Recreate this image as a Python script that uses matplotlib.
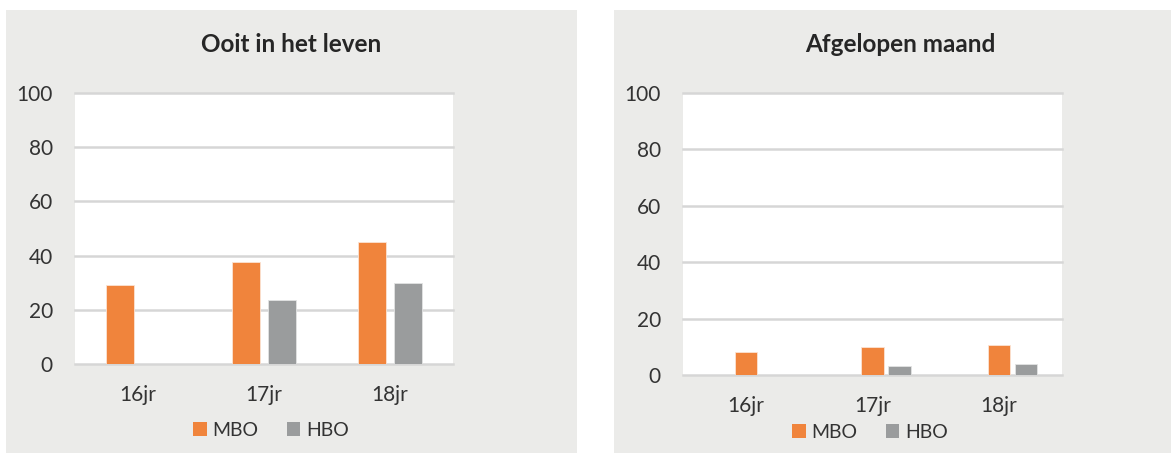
import matplotlib
matplotlib.use("Agg")
import matplotlib.pyplot as plt
from matplotlib.patches import Rectangle, Patch
import numpy as np

categories = ["16jr", "17jr", "18jr"]
series_names = ["MBO", "HBO"]
ooit_mbo = [29, 37.5, 45]
ooit_hbo = [0, 23.7, 30]
maand_mbo = [8, 9.8, 10.5]
maand_hbo = [0, 3.3, 3.9]
yticks = [0, 20, 40, 60, 80, 100]
titles = ["Ooit in het leven", "Afgelopen maand"]

W, H = 1171, 453
plt.rcParams['font.family'] = ['Lato', 'DejaVu Sans']
TXT = '#333333'
ORANGE = '#F0843C'
GREY = '#9A9C9D'
BG = '#EBEBE9'
GRID = '#D6D6D6'

fig = plt.figure(figsize=(W / 100, H / 100), dpi=100)
fig.patch.set_facecolor('white')

def px_rect(x0, y0, x1, y1):
    return [x0 / W, 1 - y1 / H, (x1 - x0) / W, (y1 - y0) / H]

# panel backgrounds
for (x0, y0, x1, y1) in [(6, 10, 577, 453), (614, 10, 1171, 453)]:
    l, b, w, h = px_rect(x0, y0, x1, y1)
    fig.patches.append(Rectangle((l, b), w, h, transform=fig.transFigure,
                                 facecolor=BG, edgecolor='none', zorder=-10))

configs = [
    dict(rect=(75, 93, 453, 364), mbo=ooit_mbo, hbo=ooit_hbo, width=0.22,
         off=(-0.143, 0.143), title=titles[0], tx=291, legx=271, legy=430),
    dict(rect=(683, 93, 1062, 375), mbo=maand_mbo, hbo=maand_hbo, width=0.175,
         off=(0.0, 0.214), title=titles[1], tx=900, legx=870, legy=432),
]

x = np.arange(len(categories))
for c in configs:
    ax = fig.add_axes(px_rect(*c['rect']))
    ax.set_zorder(1)
    ax.set_facecolor('white')
    ax.set_xlim(-0.5, len(categories) - 0.5)
    ax.set_ylim(0, 100)
    for yv in yticks:
        ax.axhline(yv, color=GRID, lw=1.8, zorder=1, clip_on=False)
    ax.bar(x + c['off'][0], c['mbo'], width=c['width'], color=ORANGE,
           edgecolor='#FBE3D3', linewidth=0.6, zorder=3)
    hb = np.array(c['hbo'], dtype=float)
    mask = hb > 0
    ax.bar((x + c['off'][1])[mask], hb[mask], width=c['width'], color=GREY,
           edgecolor='#E2E3E3', linewidth=0.6, zorder=3)
    for s in ax.spines.values():
        s.set_visible(False)
    ax.set_yticks(yticks)
    ax.set_yticklabels([str(v) for v in yticks], fontsize=15, color=TXT)
    ax.set_xticks(x)
    ax.set_xticklabels(categories, fontsize=15, color=TXT)
    ax.tick_params(axis='y', length=0, pad=16)
    ax.tick_params(axis='x', length=0, pad=15)
    fig.text(c['tx'] / W, 1 - 45 / H, c['title'], ha='center', va='center',
             fontsize=17.5, fontweight='bold', color='#262626')
    handles = [Patch(facecolor=ORANGE, edgecolor='none'),
               Patch(facecolor=GREY, edgecolor='none')]
    fig.legend(handles, series_names, loc='center',
               bbox_to_anchor=(c['legx'] / W, 1 - c['legy'] / H),
               ncol=2, frameon=False, fontsize=14, handlelength=0.7,
               handleheight=0.7, handletextpad=0.3, columnspacing=1.45,
               labelcolor=TXT, borderpad=0, borderaxespad=0)

fig.savefig('out.png', dpi=100, facecolor='white')
